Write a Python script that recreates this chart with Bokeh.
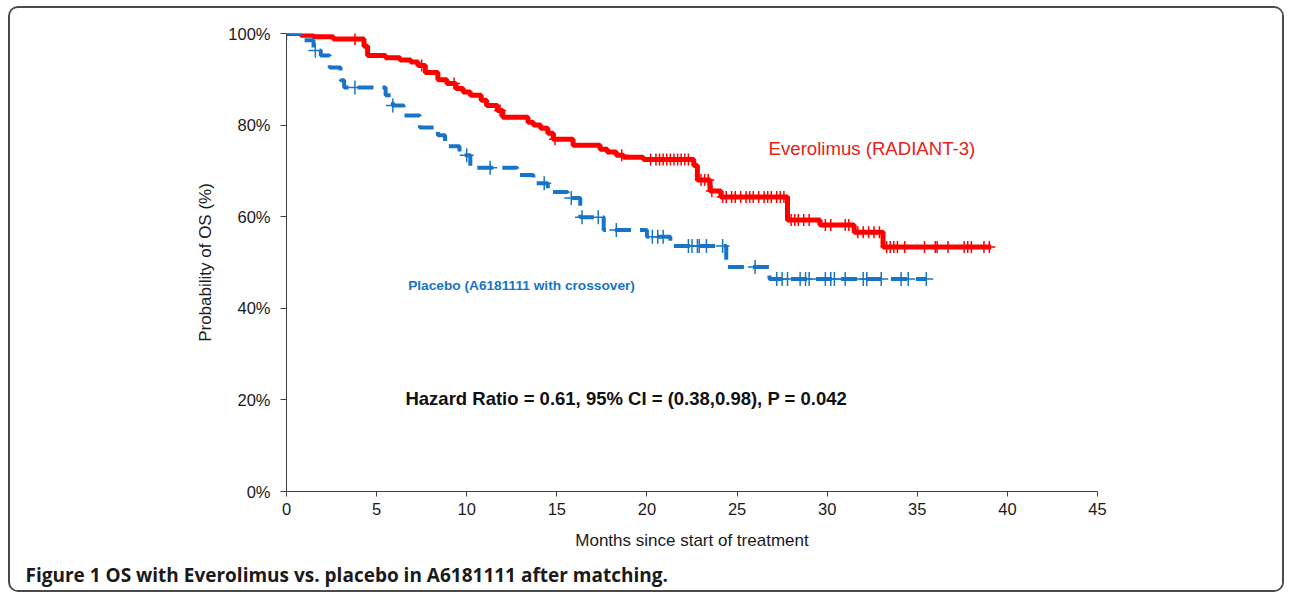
import numpy as np
from bokeh.plotting import figure
from bokeh.models import Range1d, FixedTicker, Label, Title
from bokeh.embed import file_html
from bokeh.resources import INLINE

# ---------------- data ----------------
# Everolimus (RADIANT-3): step times (months) and survival (%) from each time on
evero_time = [0, 0.8, 1.5, 2.6, 4.3, 4.5, 5.5, 6.3, 6.9, 7.3, 7.7, 8.4, 8.9, 9.4, 9.8,
              10.2, 10.8, 11.1, 11.7, 12.0, 13.4, 13.7, 14.1, 14.5, 14.8, 15.9, 17.4,
              17.8, 18.3, 18.7, 19.8, 22.6, 22.8, 23.5, 24.1, 27.8, 29.6, 31.5, 33.1, 39.1]
evero_surv = [100, 99.6, 99.3, 98.8, 97.2, 95.2, 94.7, 94.2, 93.8, 93.0, 91.5, 89.9, 89.1,
              88.0, 87.2, 86.5, 85.4, 84.3, 83.2, 81.7, 80.6, 80.0, 79.3, 78.2, 76.9, 75.6,
              74.7, 74.1, 73.4, 73.0, 72.5, 71.2, 68.0, 65.6, 64.3, 59.3, 58.2, 56.6, 53.4, 53.4]
evero_censor = [3.8, 7.5, 9.3, 11.85, 14.9, 18.6,
                20.2, 20.5, 20.7, 20.9, 21.1, 21.3, 21.5, 21.7, 21.9, 22.1, 22.3,
                23.0, 23.2, 23.4, 23.6,
                24.2, 24.4, 24.7, 24.9, 25.2, 25.5, 25.7, 25.9, 26.2, 26.5, 26.7, 26.9,
                27.2, 27.4, 27.6,
                28.0, 28.2, 28.4, 28.7, 29.0, 29.9, 30.2, 31.0, 31.2,
                31.7, 32.0, 32.3, 32.6, 32.9,
                33.3, 33.5, 33.7, 33.9, 34.3,
                35.4, 36.0, 36.1, 36.7, 37.6, 37.8, 38.0, 38.7, 39.0]

# Placebo (A6181111 with crossover)
placebo_time = [0, 0.9, 1.5, 1.9, 2.4, 3.0, 3.2, 5.5, 5.9, 6.5, 7.4, 8.4, 8.8, 9.6, 10.2,
                12.8, 13.7, 14.5, 15.6, 16.3, 17.6, 20.0, 21.3, 24.4, 26.8, 35.5]
placebo_surv = [100, 98.5, 96.3, 95.2, 92.6, 89.8, 88.2, 86.5, 84.3, 82.1, 79.5, 77.8, 75.4,
                73.4, 70.7, 69.1, 67.3, 65.4, 64.1, 59.9, 57.1, 55.6, 53.6, 49.0, 46.4, 46.4]
placebo_censor = [0.0, 1.6, 3.8, 5.9, 10.0, 11.3, 14.3, 15.8, 16.4, 17.3, 18.3,
                  20.3, 20.6, 20.9, 22.3, 22.5, 22.8, 22.9, 23.3, 24.2, 26.0,
                  27.2, 27.5, 27.8, 28.5, 28.8, 29.0, 29.9, 30.2, 30.4, 31.0,
                  32.0, 32.2, 33.0, 34.1, 34.5, 35.5]

x_ticks = [0, 5, 10, 15, 20, 25, 30, 35, 40, 45]
y_ticks = [0, 20, 40, 60, 80, 100]
y_tick_labels = ["0%", "20%", "40%", "60%", "80%", "100%"]

evero_name = "Everolimus (RADIANT-3)"
placebo_name = "Placebo (A6181111 with crossover)"
hazard_text = "Hazard Ratio = 0.61, 95% CI = (0.38,0.98), P = 0.042"
caption_text = "Figure 1 OS with Everolimus vs. placebo in A6181111 after matching."
x_title = "Months since start of treatment"
y_title = "Probability of OS (%)"

RED = "#ff0000"
BLUE = "#1874c6"
FONT = "Liberation Sans"


def step_value(times, survs, at):
    times = np.asarray(times, dtype=float)
    survs = np.asarray(survs, dtype=float)
    idx = np.searchsorted(times, np.asarray(at, dtype=float), side="right") - 1
    return survs[np.clip(idx, 0, len(survs) - 1)]


p = figure(width=1276, height=586, output_backend="svg", toolbar_location=None,
           x_range=Range1d(0, 45), y_range=Range1d(0, 100),
           min_border_left=276, min_border_right=189, min_border_top=25, min_border_bottom=102)
p.styles = {"border": "2px solid #4a4a4a", "border-radius": "10px", "overflow": "hidden",
            "margin-left": "8px", "margin-top": "6px"}
p.border_fill_color = "white"
p.background_fill_color = "white"
p.outline_line_color = None
p.xgrid.visible = False
p.ygrid.visible = False

# Everolimus curve
p.step(evero_time, evero_surv, mode="after", line_color=RED, line_width=5)
p.scatter(evero_censor, step_value(evero_time, evero_surv, evero_censor), marker="cross",
          size=12, line_color=RED, line_width=1.5)

# Placebo curve
p.step(placebo_time, placebo_surv, mode="after", line_color=BLUE, line_width=4, line_dash="16 9")
p.scatter(placebo_censor, step_value(placebo_time, placebo_surv, placebo_censor), marker="cross",
          size=14, line_color=BLUE, line_width=1.5)

# axes
for ax in (p.xaxis[0], p.yaxis[0]):
    ax.axis_line_color = "#404040"
    ax.major_tick_line_color = "#404040"
    ax.minor_tick_line_color = None
    ax.major_label_text_font = FONT
    ax.major_label_text_font_size = "16.5px"
    ax.major_label_text_color = "#1a1a1a"
    ax.axis_label_text_font = FONT
    ax.axis_label_text_font_size = "17px"
    ax.axis_label_text_font_style = "normal"
    ax.axis_label_text_color = "#1a1a1a"
    ax.major_tick_in = 0

p.xaxis.ticker = FixedTicker(ticks=x_ticks)
p.xaxis.major_tick_out = 5
p.xaxis.major_label_standoff = 6
p.xaxis.axis_label = x_title
p.xaxis.axis_label_standoff = 13

p.yaxis.ticker = FixedTicker(ticks=y_ticks)
p.yaxis.major_label_overrides = {t: lab for t, lab in zip(y_ticks, y_tick_labels)}
p.yaxis.major_tick_out = 6
p.yaxis.major_label_standoff = 10
p.yaxis.axis_label = y_title
p.yaxis.axis_label_standoff = 10

# annotations inside the plot area
p.add_layout(Label(x=26.75, y=74.9, text=evero_name, text_font=FONT, text_font_size="18.6px",
                   text_color="#e2231a", text_baseline="middle"))
p.add_layout(Label(x=6.75, y=44.9, text=placebo_name, text_font=FONT, text_font_size="13.7px",
                   text_font_style="bold", text_color=BLUE, text_baseline="middle"))
p.add_layout(Label(x=6.6, y=20.4, text=hazard_text, text_font=FONT, text_font_size="18.5px",
                   text_font_style="bold", text_color="#111111", text_baseline="middle"))

# caption below the chart
caption = Title(text=caption_text, align="left", offset=-261, standoff=14,
                text_font="Open Sans", text_font_size="19px", text_font_style="bold",
                text_color="#1a1a1a")
p.add_layout(caption, "below")

open("out.html", "w").write(file_html(p, INLINE))
